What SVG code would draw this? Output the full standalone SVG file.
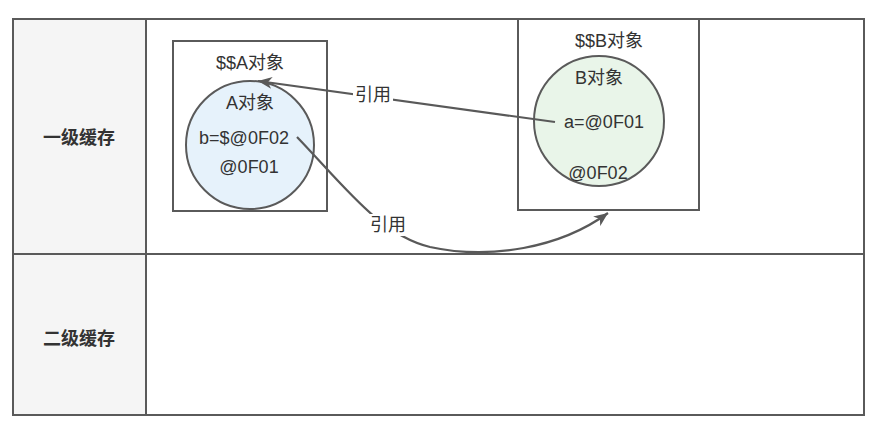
<svg xmlns="http://www.w3.org/2000/svg" width="888" height="438" viewBox="0 0 888 438">
<style>
text{font-family:"Liberation Sans","Noto Sans CJK SC",sans-serif;font-size:18px;fill:#333;text-anchor:middle}
.hdr{font-weight:bold;font-size:18px}
.ln{stroke:#5a5a5a;stroke-width:2}
.nf{fill:none}
.wf{fill:#fff}
.ca{fill:#e6f2fb}
.cb{fill:#e9f5e9}
.conn{fill:none;stroke:#595959;stroke-width:2.2}
</style>
<defs>
<marker id="arr" markerUnits="userSpaceOnUse" markerWidth="16" markerHeight="12" refX="14" refY="6" orient="auto" viewBox="0 0 16 12">
<path d="M0,0 L14,6 L0,12 L4,6 z" fill="#595959"/>
</marker>
</defs>
<rect width="888" height="438" fill="#fff"/>
<g id="table">
<rect x="13" y="19" width="133" height="396" fill="#f5f5f5"/>
<rect class="ln nf" x="13" y="19" width="851" height="396"/>
<line class="ln" x1="146" y1="19" x2="146" y2="415"/>
<line class="ln" x1="13" y1="254" x2="864" y2="254"/>
</g>
<g id="row1-label"><text class="hdr" x="79" y="144">一级缓存</text></g>
<g id="row2-label"><text class="hdr" x="79" y="345">二级缓存</text></g>
<g id="boxA">
<rect class="ln wf" x="173" y="41" width="154" height="170"/>
<text x="250" y="69">$$A对象</text>
</g>
<g id="boxB">
<rect class="ln wf" x="518" y="19" width="181" height="191"/>
<text x="609" y="47">$$B对象</text>
</g>
<g id="circleA">
<circle class="ln ca" cx="250" cy="145" r="64"/>
<text x="250" y="109">A对象</text>
<text x="244" y="144">b=$@0F02</text>
<text x="249" y="173">@0F01</text>
</g>
<g id="circleB">
<circle class="ln cb" cx="599" cy="121" r="65"/>
<text x="599" y="84">B对象</text>
<text x="604" y="128">a=@0F01</text>
<text x="598" y="179">@0F02</text>
</g>
<g id="connectors">
<path class="conn" d="M555,122 L258,81" marker-end="url(#arr)"/>
<rect x="353" y="84" width="40" height="22" fill="#fff"/>
<text x="373" y="101">引用</text>
<path class="conn" d="M297,137 C345,187 380,235 430,247 C490,260 560,248 608,213" marker-end="url(#arr)"/>
<rect x="368" y="214" width="40" height="22" fill="#fff"/>
<text x="388" y="231">引用</text>
</g>
</svg>
